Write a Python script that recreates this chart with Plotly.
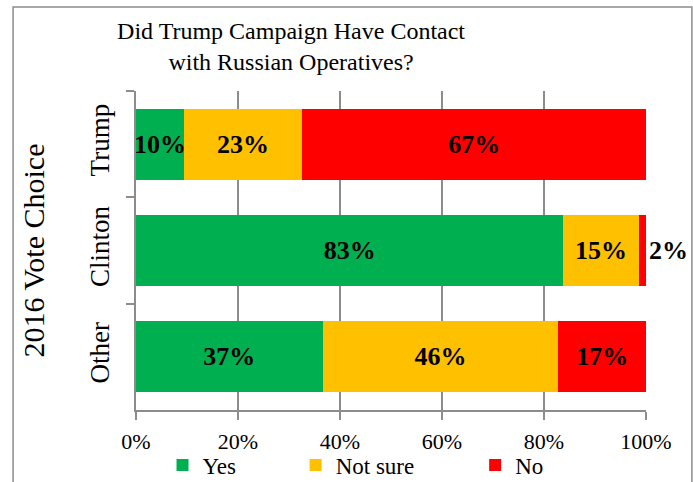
import plotly.graph_objects as go

# ---- data ----
categories = ["Trump", "Clinton", "Other"]
series_names = ["Yes", "Not sure", "No"]
yes_vals = [9.4, 83.8, 36.6]
notsure_vals = [23.2, 14.8, 46.2]
no_vals = [67.4, 1.4, 17.2]
yes_labels = ["10%", "83%", "37%"]
notsure_labels = ["23%", "15%", "46%"]
no_labels = ["67%", "2%", "17%"]
x_tick_vals = [0, 20, 40, 60, 80, 100]
x_tick_text = ["0%", "20%", "40%", "60%", "80%", "100%"]

colors = ["#00B050", "#FFC000", "#FF0000"]
FONT = "Liberation Serif, Times New Roman, serif"
GRAY = "#8C8C8C"

fig = go.Figure()
vals = [yes_vals, notsure_vals, no_vals]
labels = [yes_labels, notsure_labels, no_labels]
legend_ids = ["legend", "legend2", "legend3"]
legend_x = [0.052, 0.313, 0.665]
bold = dict(family=FONT, size=26, color="black", weight="bold")
for i, name in enumerate(series_names):
    pos = "auto" if name == "No" else "inside"
    fig.add_trace(go.Bar(
        y=categories, x=vals[i], name=name, orientation="h",
        marker=dict(color=colors[i], line=dict(width=0)),
        text=labels[i], textposition=pos, insidetextanchor="middle",
        textangle=0, constraintext="none", cliponaxis=False,
        textfont=bold, outsidetextfont=bold, insidetextfont=bold,
        legend=legend_ids[i],
    ))

legend_common = dict(orientation="h", xanchor="left", y=-0.105, yanchor="top",
                     font=dict(family=FONT, size=23, color="black"),
                     bgcolor="rgba(0,0,0,0)")

fig.update_layout(
    barmode="stack", bargap=0.33,
    width=693, height=482,
    margin=dict(l=136, r=47, t=91, b=72, autoexpand=False),
    paper_bgcolor="white", plot_bgcolor="white",
    font=dict(family=FONT, color="black"),
    title=dict(text="Did Trump Campaign Have Contact<br>with Russian Operatives?",
               x=0.42, xanchor="center", xref="container",
               y=0.919, yanchor="top", yref="container",
               font=dict(family=FONT, size=24, color="black")),
    xaxis=dict(range=[0, 100.001], tickvals=x_tick_vals, ticktext=x_tick_text,
               showgrid=True, gridcolor=GRAY, gridwidth=1.5,
               showline=True, linecolor=GRAY, linewidth=1.5,
               ticks="outside", ticklen=8, tickcolor=GRAY, tickwidth=1.5,
               ticklabelstandoff=3,
               zeroline=False, tickfont=dict(family=FONT, size=22, color="black")),
    yaxis=dict(categoryorder="array", categoryarray=categories, autorange="reversed",
               showgrid=False, showline=True, linecolor=GRAY, linewidth=1.5,
               ticks="outside", ticklen=8, tickcolor=GRAY, tickwidth=1.5,
               tickson="boundaries", tickangle=-90, ticklabelstandoff=14,
               tickfont=dict(family=FONT, size=27, color="black"),
               title=dict(text="2016 Vote Choice", standoff=32,
                          font=dict(family=FONT, size=30, color="black"))),
    legend=dict(x=legend_x[0], **legend_common),
    legend2=dict(x=legend_x[1], **legend_common),
    legend3=dict(x=legend_x[2], **legend_common),
    showlegend=True,
    shapes=[dict(type="rect", xref="paper", yref="paper",
                 x0=-0.241, x1=1.09, y0=-0.35, y1=1.263,
                 line=dict(color=GRAY, width=1.5), fillcolor="rgba(0,0,0,0)",
                 layer="below")],
)

fig.write_html("out.html")
